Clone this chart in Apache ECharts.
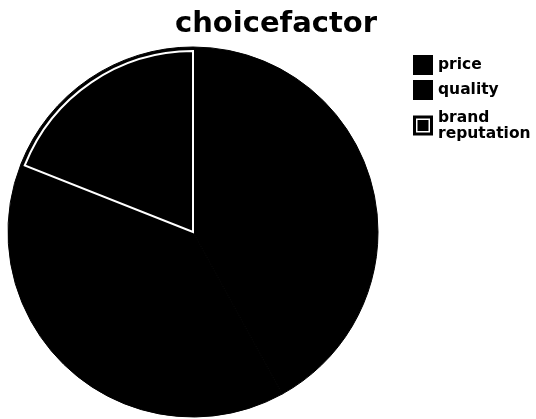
<!DOCTYPE html>
<html><head><meta charset="utf-8">
<script src="https://cdn.jsdelivr.net/npm/echarts@6/dist/echarts.min.js"></script>
<style>html,body{margin:0;padding:0;background:#fff}#c{width:536px;height:419px}</style>
</head><body><div id="c"></div>
<script>
const categories = ['price', 'quality', 'brand reputation'];
const values = [42, 39, 19];
const titleText = 'choicefactor';

const chart = echarts.init(document.getElementById('c'));
const brandIcon = 'path://M0,0H20V20H0Z M3,3V17H17V3Z M4.5,4.5H15.5V15.5H4.5Z';
const font = 'DejaVu Sans, sans-serif';
const legendData = categories.map((c, i) => ({
  name: c,
  icon: i === 2 ? brandIcon : 'rect',
  itemStyle: {color: '#000', borderWidth: 0},
  textStyle: i === 2 ? {padding: [9, 0, 0, 0]} : {}
}));
const mainData = categories.map((c, i) => ({name: c, value: values[i]}));
const outlineData = categories.map((c, i) => ({
  name: c, value: values[i],
  itemStyle: i === 2
    ? {color: 'rgba(0,0,0,0)', borderColor: '#fff', borderWidth: 2, borderJoin: 'miter'}
    : {color: 'rgba(0,0,0,0)', borderWidth: 0}
}));
chart.setOption({
  animation: false,
  title: {
    text: titleText, left: 271, top: 5, textAlign: 'center',
    textStyle: {fontFamily: font, fontWeight: 'bold', fontSize: 29, color: '#000'}
  },
  legend: {
    orient: 'vertical', left: 413, top: 55, padding: 0,
    itemWidth: 20, itemHeight: 20, itemGap: 5,
    data: legendData,
    formatter: n => n === 'brand reputation' ? 'brand\nreputation' : n,
    textStyle: {fontFamily: font, fontWeight: 'bold', fontSize: 15.5, color: '#000', lineHeight: 16},
    selectedMode: false
  },
  series: [{
    type: 'pie', center: [193, 232], radius: 185, startAngle: 90, clockwise: true,
    label: {show: false}, labelLine: {show: false}, silent: true,
    itemStyle: {color: '#000', borderColor: '#000', borderWidth: 1},
    data: mainData
  }, {
    type: 'pie', center: [193, 232], radius: 181, startAngle: 90, clockwise: true,
    label: {show: false}, labelLine: {show: false}, silent: true,
    data: outlineData
  }]
});
</script></body></html>
